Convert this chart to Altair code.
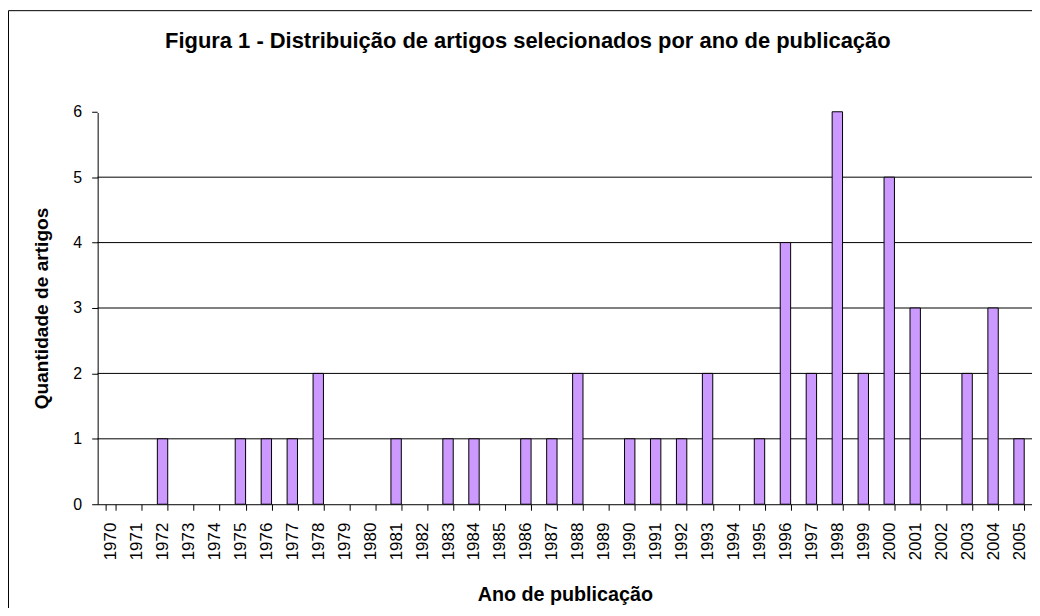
import altair as alt
import pandas as pd

anos = ["1970", "1971", "1972", "1973", "1974", "1975", "1976", "1977", "1978",
        "1979", "1980", "1981", "1982", "1983", "1984", "1985", "1986", "1987",
        "1988", "1989", "1990", "1991", "1992", "1993", "1994", "1995", "1996",
        "1997", "1998", "1999", "2000", "2001", "2002", "2003", "2004", "2005"]
quantidade = [0, 0, 1, 0, 0, 1, 1, 1, 2,
              0, 0, 1, 0, 1, 1, 0, 1, 1,
              2, 0, 1, 1, 1, 2, 0, 1, 4,
              2, 6, 2, 5, 3, 0, 2, 3, 1]
y_ticks = [0, 1, 2, 3, 4, 5, 6]
grid_values = [1, 2, 3, 4, 5]
top_value = [6]

titulo = "Figura 1 - Distribuição de artigos selecionados por ano de publicação"
titulo_x = "Ano de publicação"
titulo_y = "Quantidade de artigos"

FONT = "Liberation Sans"

df = pd.DataFrame({"ano": anos, "n": quantidade})
y_scale = alt.Scale(domain=[0, 6], nice=False)
y_axis = alt.Axis(values=y_ticks, format="d", title=titulo_y,
                  labelFontSize=16, labelFont=FONT, labelColor="black",
                  labelPadding=10, tickSize=6, tickColor="black",
                  domainColor="black", grid=False, gridOpacity=0,
                  titleFont=FONT, titleFontSize=19.2, titleFontWeight="bold",
                  titleColor="black", titlePadding=21)

bars = alt.Chart(df).transform_filter("datum.n > 0").mark_bar(
    color="#CC99FF", stroke="black", strokeWidth=1
).encode(
    x=alt.X("ano:O", sort=anos,
            scale=alt.Scale(domain=anos, paddingInner=0.6, paddingOuter=0.3),
            axis=alt.Axis(title=titulo_x, labelAngle=270, labelFontSize=17,
                          labelFont=FONT, labelColor="black", labelPadding=12,
                          tickSize=6, tickColor="black", tickBand="extent",
                          domainColor="black", titleFont=FONT, titleFontSize=19.8,
                          titleFontWeight="bold", titleColor="black",
                          titlePadding=25, grid=False)),
    y=alt.Y("n:Q", scale=y_scale, axis=y_axis),
)

grid = alt.Chart(pd.DataFrame({"g": grid_values})).mark_rule(
    color="black", strokeWidth=1
).encode(y=alt.Y("g:Q", scale=y_scale, axis=y_axis))

# no gridline at the top value in the reference
top_clear = alt.Chart(pd.DataFrame({"g": top_value})).mark_rule(
    color="white", strokeWidth=2.5
).encode(y=alt.Y("g:Q", scale=y_scale, axis=y_axis))

border = alt.Chart(pd.DataFrame({"k": [0]})).mark_rect(
    fill="transparent", stroke="black", strokeWidth=1
).encode(
    x=alt.value(-89.5), x2=alt.value(2000),
    y=alt.value(-101.5), y2=alt.value(2000)
)

title = alt.Chart(pd.DataFrame({"t": [titulo]})).mark_text(
    align="left", baseline="alphabetic", font=FONT, fontSize=22,
    fontWeight="bold", color="black"
).encode(x=alt.value(67.7), y=alt.value(-64.3), text="t:N")

chart = alt.layer(border, grid, top_clear, bars, title).properties(
    width=938, height=394,
    padding={"left": 90, "top": 103, "right": 0, "bottom": 103},
    autosize=alt.AutoSizeParams(type="none"),
    background="white",
    view=alt.ViewBackground(stroke="transparent", strokeOpacity=0, strokeWidth=0),
).resolve_scale(y="shared").configure_axis(grid=False, gridOpacity=0).configure_view(
    stroke="transparent", strokeOpacity=0, strokeWidth=0)

chart.save("out.html", embed_options={"renderer": "svg", "actions": False})
